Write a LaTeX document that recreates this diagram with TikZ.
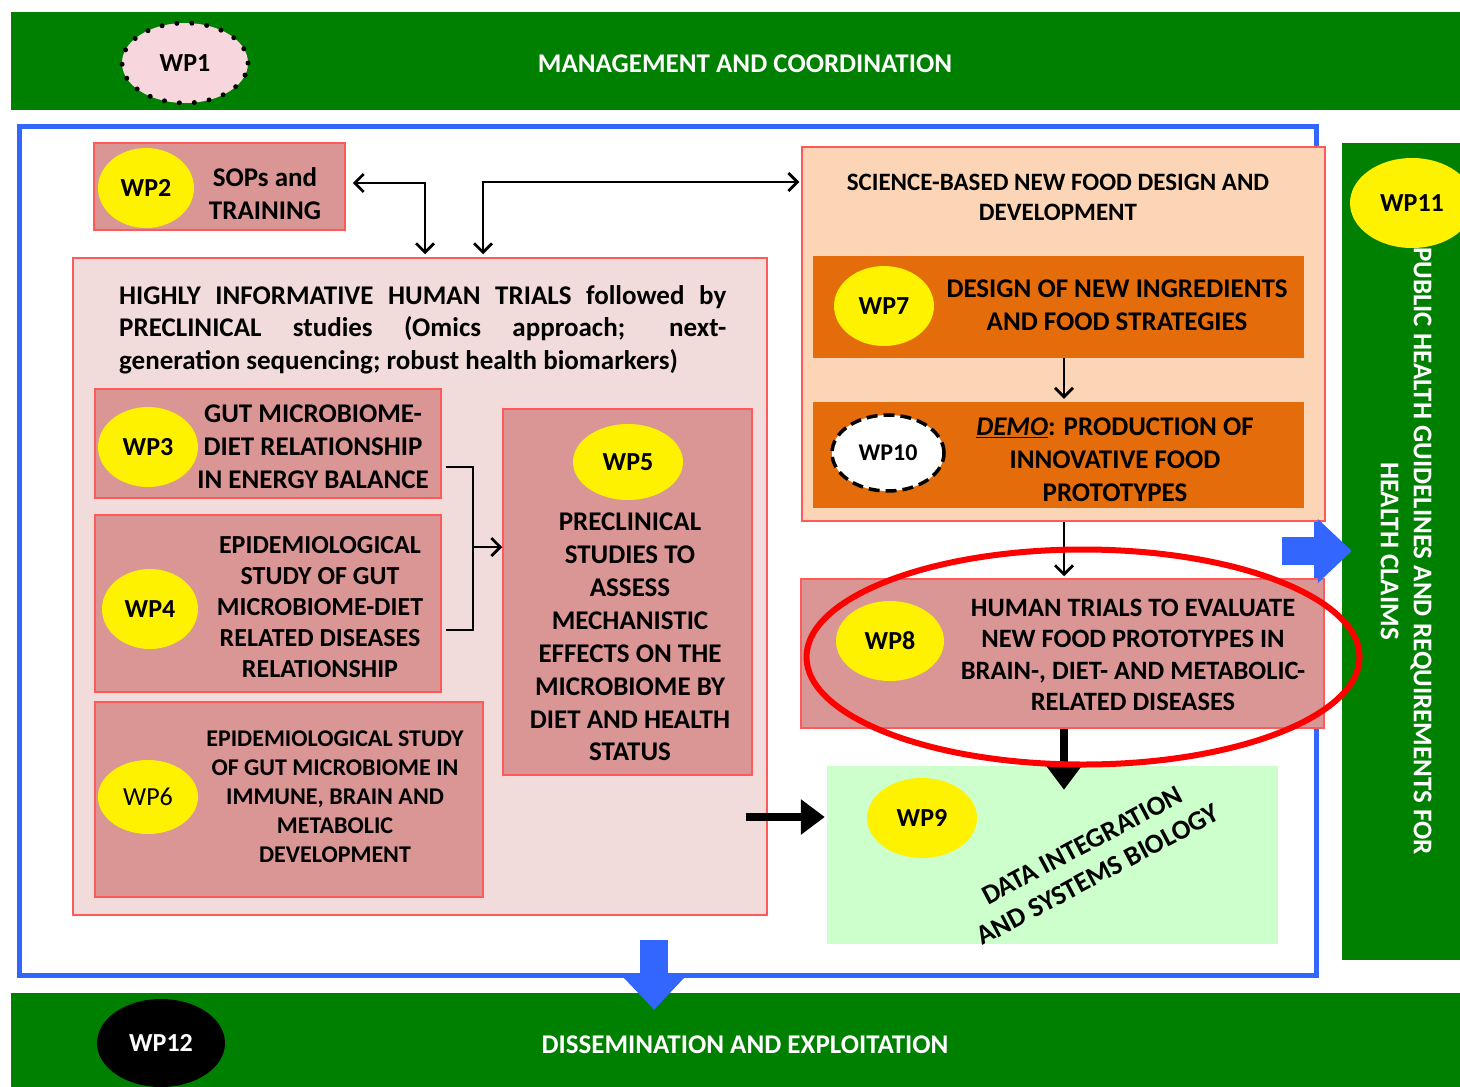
\documentclass[tikz,border=0pt]{standalone}
\usepackage{fontspec}
\setmainfont{Carlito}
\usetikzlibrary{shapes.geometric,arrows.meta}
\definecolor{bandgreen}{RGB}{0,128,0}
\definecolor{wpfill}{RGB}{218,150,148}
\definecolor{bigfill}{RGB}{242,220,219}
\definecolor{scifill}{RGB}{251,213,181}
\definecolor{orangefill}{RGB}{228,108,10}
\definecolor{lgreen}{RGB}{204,255,204}
\definecolor{frameblue}{RGB}{51,102,255}
\definecolor{boxred}{RGB}{255,90,90}
\definecolor{wponepink}{RGB}{247,214,222}
\begin{document}
\begin{tikzpicture}[x=1pt,y=-1pt,
  txt/.style={font=\fontsize{27}{33}\selectfont\bfseries, align=center, inner sep=0pt},
  band/.style={rectangle, fill=bandgreen, inner sep=0pt},
  rbox/.style={rectangle, draw=boxred, fill=wpfill, line width=1.5pt, inner sep=0pt},
  obox/.style={rectangle, fill=orangefill, inner sep=0pt},
  yell/.style={ellipse, fill=yellow, inner sep=0pt, font=\fontsize{26}{30}\selectfont\bfseries},
  arr/.style={line width=2.8pt, -{Straight Barb[length=9pt,width=18pt]}},
  darr/.style={line width=2.8pt, {Straight Barb[length=9pt,width=18pt]}-{Straight Barb[length=9pt,width=18pt]}},
  bigarr/.style={line width=8pt, -{Triangle[length=24pt,width=34pt]}},
  bluearr/.style={frameblue, line width=28pt, -{Triangle[length=34pt,width=62pt]}}
]
\useasboundingbox (0,0) rectangle (1460,1087);
\fill[white] (0,0) rectangle (1460,1087);

% top band
\node[band, minimum width=1449, minimum height=98] (top) at (735.5,61) {};
\node[txt, text=white] (toptext) at (745,64) {MANAGEMENT AND COORDINATION};
\node[ellipse, fill=wponepink, draw=black, line width=5pt, dash pattern=on 0pt off 15pt, line cap=round,
      minimum width=126, minimum height=80, inner sep=0pt, font=\fontsize{26}{30}\selectfont\bfseries] (wp1) at (185,63) {WP1};

% bottom band
\node[band, minimum width=1449, minimum height=94] (bot) at (735.5,1040) {};
\node[txt, text=white] (bottext) at (745,1045) {DISSEMINATION AND EXPLOITATION};
\node[ellipse, fill=black, text=white, minimum width=128, minimum height=88, inner sep=0pt,
      font=\fontsize{26}{30}\selectfont\bfseries] (wp12) at (161,1043) {WP12};

% right band
\node[band, minimum width=118, minimum height=817] (rband) at (1401,551.5) {};
\node[txt, text=white, rotate=-90] (rtext) at (1406,551) {PUBLIC HEALTH GUIDELINES AND REQUIREMENTS FOR\\HEALTH CLAIMS};
\node[yell, minimum width=124, minimum height=90] (wp11) at (1412,203) {WP11};

% blue frame
\node[draw=frameblue, line width=5pt, minimum width=1297, minimum height=849, inner sep=0pt] (frame) at (667.5,550.5) {};

% WP2
\node[rbox, minimum width=251, minimum height=87] (b2) at (219.5,186.5) {};
\node[yell, minimum width=96, minimum height=80] (wp2) at (146,188) {WP2};
\node[txt] (t2) at (265,194) {SOPs and\\TRAINING};

% big pink box
\node[rectangle, draw=boxred, fill=bigfill, line width=1.5pt, minimum width=694, minimum height=657, inner sep=0pt] (big) at (420,586.5) {};
\node[font=\fontsize{27}{32.5}\selectfont\bfseries, align=left, inner sep=0pt, anchor=north west] (title) at (119,285) {%
\makebox[607pt][s]{HIGHLY INFORMATIVE HUMAN TRIALS followed by}\\
\makebox[607pt][s]{PRECLINICAL studies (Omics approach; next-}\\
generation sequencing; robust health biomarkers)};

% WP3
\node[rbox, minimum width=346, minimum height=109] (b3) at (268,443.5) {};
\node[yell, minimum width=100, minimum height=80] (wp3) at (148,447) {WP3};
\node[txt] (t3) at (313,447) {GUT MICROBIOME-\\DIET RELATIONSHIP\\IN ENERGY BALANCE};

% WP4
\node[rbox, minimum width=346, minimum height=177] (b4) at (268,603.5) {};
\node[yell, minimum width=96, minimum height=80] (wp4) at (150,609) {WP4};
\node[txt, font=\fontsize{26}{31}\selectfont\bfseries] (t4) at (320,607) {EPIDEMIOLOGICAL\\STUDY OF GUT\\MICROBIOME-DIET\\RELATED DISEASES\\RELATIONSHIP};

% WP5
\node[rbox, minimum width=249, minimum height=366] (b5) at (627.5,592) {};
\node[yell, minimum width=110, minimum height=76] (wp5) at (628,462) {WP5};
\node[txt, font=\fontsize{27}{32.9}\selectfont\bfseries] (t5) at (630,637) {PRECLINICAL\\STUDIES TO\\ASSESS\\MECHANISTIC\\EFFECTS ON THE\\MICROBIOME BY\\DIET AND HEALTH\\STATUS};

% WP6
\node[rbox, minimum width=388, minimum height=195] (b6) at (289,799.5) {};
\node[yell, minimum width=100, minimum height=74, font=\fontsize{26}{30}\selectfont] (wp6) at (148,797) {WP6};
\node[txt, font=\fontsize{24}{29}\selectfont\bfseries] (t6) at (335,797) {EPIDEMIOLOGICAL STUDY\\OF GUT MICROBIOME IN\\IMMUNE, BRAIN AND\\METABOLIC\\DEVELOPMENT};

% science box
\node[rectangle, draw=boxred, fill=scifill, line width=1.5pt, minimum width=523, minimum height=374, inner sep=0pt] (sci) at (1063.5,334) {};
\node[txt, font=\fontsize{25}{30}\selectfont\bfseries] (tsci) at (1058,197) {SCIENCE-BASED NEW FOOD DESIGN AND\\DEVELOPMENT};

% WP7
\node[obox, minimum width=491, minimum height=102] (b7) at (1058.5,307) {};
\node[yell, minimum width=100, minimum height=80] (wp7) at (884,306) {WP7};
\node[txt] (t7) at (1117,305) {DESIGN OF NEW INGREDIENTS\\AND FOOD STRATEGIES};

% WP10
\node[obox, minimum width=491, minimum height=106] (b10) at (1058.5,455) {};
\node[ellipse, fill=white, draw=black, line width=3.5pt, dash pattern=on 11pt off 6pt,
      minimum width=112, minimum height=76, inner sep=0pt, font=\fontsize{24}{30}\selectfont\bfseries] (wp10) at (888,453) {WP10};
\node[txt] (t10) at (1115,460) {\underline{\textit{DEMO}}: PRODUCTION OF\\INNOVATIVE FOOD\\PROTOTYPES};

% WP8
\node[rbox, minimum width=523, minimum height=149] (b8) at (1062.5,653.5) {};
\node[yell, minimum width=108, minimum height=80] (wp8) at (890,641) {WP8};
\node[txt, font=\fontsize{26.5}{31.3}\selectfont\bfseries] (t8) at (1133,655) {HUMAN TRIALS TO EVALUATE\\NEW FOOD PROTOTYPES IN\\BRAIN-, DIET- AND METABOLIC-\\RELATED DISEASES};

% WP9
\node[rectangle, fill=lgreen, minimum width=451, minimum height=178, inner sep=0pt] (b9) at (1052.5,855) {};
\node[yell, minimum width=110, minimum height=80] (wp9) at (922,818) {WP9};
\node[txt, rotate=28, font=\fontsize{27.5}{33}\selectfont\bfseries] (t9) at (1090,860) {DATA INTEGRATION\\AND SYSTEMS BIOLOGY};

% connectors
\draw[darr] ([xshift=7pt,yshift=3.5pt]b2.east) -| ([xshift=5pt,yshift=3pt]big.north);
\draw[darr] ([xshift=63pt,yshift=3pt]big.north) |- ([xshift=-2pt,yshift=152pt]sci.west);
\coordinate (brk) at (473,547);
\draw[line width=2.8pt] ([xshift=4pt,yshift=-23.5pt]b3.east) -| (brk) |- ([xshift=4pt,yshift=-26.5pt]b4.east);
\draw[arr] (brk) -- (brk -| b5.west);
\draw[arr] ([xshift=5.5pt]b7.south) -- ([xshift=5.5pt,yshift=3pt]b10.north);
\draw[arr] ([xshift=0.5pt]sci.south) -- ([xshift=1.5pt,yshift=2pt]b8.north);
\draw[bigarr] ([xshift=1.5pt]b8.south) -- ([xshift=11.5pt,yshift=-24pt]b9.north);
\draw[bigarr] ([xshift=-22pt,yshift=-230.5pt]big.east) -- ([xshift=-2pt,yshift=38pt]b9.west);

% blue block arrows
\coordinate (bstart) at (1282,551);
\draw[bluearr] (bstart) -- ([xshift=10pt]bstart -| rband.west);
\coordinate (dstart) at (654,940);
\draw[bluearr] (dstart) -- ([yshift=-17pt]dstart |- bot.north);

% highlight ellipse
\node[ellipse, draw=red, line width=6pt, minimum width=553, minimum height=215, inner sep=0pt] (hl) at (1083,657) {};
\end{tikzpicture}
\end{document}
